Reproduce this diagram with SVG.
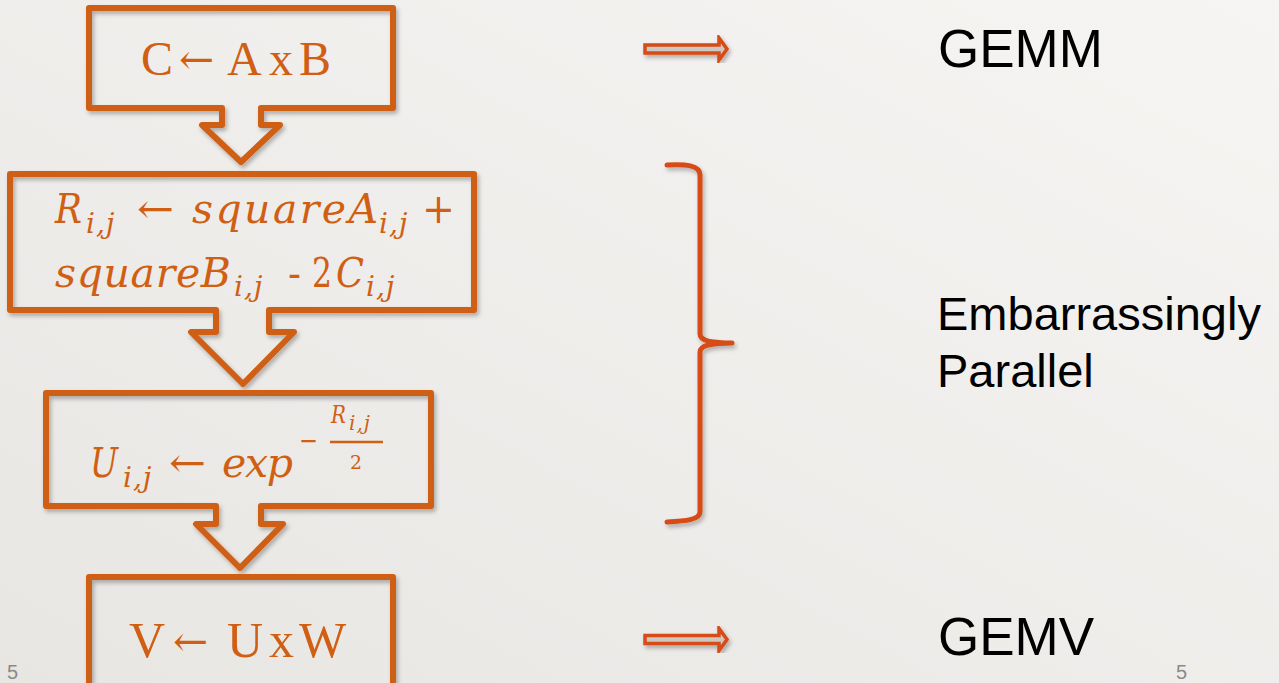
<svg xmlns="http://www.w3.org/2000/svg" width="1279" height="683" viewBox="0 0 1279 683">
  <defs>
    <linearGradient id="bg" x1="1" y1="0" x2="0" y2="1">
      <stop offset="0" stop-color="#f6f5f3"/>
      <stop offset="1" stop-color="#e8e6e3"/>
    </linearGradient>
    <filter id="shadow" x="-10%" y="-10%" width="120%" height="120%">
      <feDropShadow dx="2" dy="3" stdDeviation="2" flood-color="#000" flood-opacity="0.28"/>
    </filter>
    <style>
      .box { fill: none; stroke: #d05f14; stroke-width: 6; stroke-linejoin: round; filter: url(#shadow); }
      .math { fill: #d05f14; font-family: "DejaVu Serif", "Liberation Serif", serif; }
      .rm { font-family: "Liberation Serif", "DejaVu Serif", serif; }
      .arr { font-family: "DejaVu Serif", serif; font-size: 42px; }
      .it { font-style: italic; }
      .big { font-size: 41px; }
      .sub { font-size: 28px; letter-spacing: 1px; }
      .label { fill: #000; font-family: "Liberation Sans", Arial, sans-serif; }
      .arrow { fill: #cdc8c3; stroke: #d74b16; stroke-width: 3.5; stroke-linejoin: miter; filter: url(#shadow); }
      .brace { fill: none; stroke: #d74b16; stroke-width: 5; stroke-linecap: round; stroke-linejoin: round; filter: url(#shadow); }
      .pnum { fill: #8a8a8a; font-family: "Liberation Sans", Arial, sans-serif; font-size: 20px; }
    </style>
  </defs>

  <rect width="1279" height="683" fill="url(#bg)"/>

  <!-- step 1: GEMM -->
  <g id="step-gemm">
    <path class="box" d="M89,8 H393 V108 H261 V125 H280 L241,162 L202,125 H222 V108 H89 Z"/>
    <text class="math rm" y="75" font-size="48"><tspan x="141">C</tspan><tspan class="arr" x="179" dy="-1">←</tspan><tspan x="227" dy="1">A</tspan><tspan x="269">x</tspan><tspan x="299">B</tspan></text>
  </g>

  <!-- step 2: squared distances -->
  <g id="step-distance">
    <path class="box" d="M10,174 H474 V310 H269 V332 H294 L243,384 L191,332 H216 V310 H10 Z"/>
    <text class="math it big" x="55" y="223" textLength="27" lengthAdjust="spacingAndGlyphs">R</text>
    <text class="math it sub" x="86" y="233">i,j</text>
    <text class="math big" x="137" y="223" textLength="37" lengthAdjust="spacingAndGlyphs">←</text>
    <text class="math it big" x="192" y="223" textLength="186" lengthAdjust="spacing">squareA</text>
    <text class="math it sub" x="379" y="233">i,j</text>
    <text class="math big" x="422" y="223" textLength="33" lengthAdjust="spacingAndGlyphs">+</text>
    <text class="math it big" x="55" y="287" textLength="176" lengthAdjust="spacing">squareB</text>
    <text class="math it sub" x="234" y="296">i,j</text>
    <text class="math big" x="288" y="287" textLength="13" lengthAdjust="spacingAndGlyphs">-</text>
    <text class="math big" x="312" y="287" textLength="20" lengthAdjust="spacingAndGlyphs">2</text>
    <text class="math it big" x="336" y="287" textLength="28" lengthAdjust="spacingAndGlyphs">C</text>
    <text class="math it sub" x="366" y="296">i,j</text>
  </g>

  <!-- step 3: kernel values -->
  <g id="step-kernel">
    <path class="box" d="M46,393 H431 V506 H261 V524 H283 L240,568 L196,524 H216 V506 H46 Z"/>
    <text class="math it big" x="90" y="477" textLength="28" lengthAdjust="spacingAndGlyphs">U</text>
    <text class="math it sub" x="123" y="487">i,j</text>
    <text class="math big" x="169" y="477" textLength="37" lengthAdjust="spacingAndGlyphs">←</text>
    <text class="math it big" x="222" y="477" textLength="71" lengthAdjust="spacing">exp</text>
    <text class="math" x="299" y="450" font-size="28" textLength="19" lengthAdjust="spacingAndGlyphs">−</text>
    <text class="math it" x="331" y="423" font-size="25" textLength="15" lengthAdjust="spacingAndGlyphs">R</text>
    <text class="math it" x="349" y="430" font-size="20" letter-spacing="1">i,j</text>
    <line x1="330" y1="442" x2="383" y2="442" stroke="#d05f14" stroke-width="2.5"/>
    <text class="math" x="350" y="469" font-size="18" textLength="12" lengthAdjust="spacingAndGlyphs">2</text>
  </g>

  <!-- step 4: GEMV -->
  <g id="step-gemv">
    <path class="box" d="M89,577 H393 V700 H89 Z"/>
    <text class="math rm" y="657" font-size="50"><tspan x="129">V</tspan><tspan class="arr" x="173" dy="-1">←</tspan><tspan x="227" dy="1">U</tspan><tspan x="269">x</tspan><tspan x="299">W</tspan></text>
  </g>

  <!-- connectors: arrows to labels and brace -->
  <g id="connectors">
    <path class="arrow" d="M645,45 H719 V38 L727,49 L719,60 V53 H645 Z"/>
    <path class="arrow" d="M645,635.5 H719 V628.5 L727,639.5 L719,650.5 V643.5 H645 Z"/>
    <path class="brace" d="M667,165 C685,164 700,165 700,175 V334 C700,341 712,343 732,343 C712,343 700,345 700,352 V512 C700,520 685,521 667,522"/>
  </g>

  <!-- labels -->
  <g id="label-gemm">
    <text class="label" x="938" y="67" font-size="53">GEMM</text>
  </g>
  <g id="label-parallel">
    <text class="label" x="937" y="330" font-size="47">Embarrassingly</text>
    <text class="label" x="937" y="387" font-size="47">Parallel</text>
  </g>
  <g id="label-gemv">
    <text class="label" x="938" y="655" font-size="53">GEMV</text>
  </g>

  <!-- slide numbers -->
  <text class="pnum" x="7" y="679">5</text>
  <text class="pnum" x="1176" y="679">5</text>
</svg>
